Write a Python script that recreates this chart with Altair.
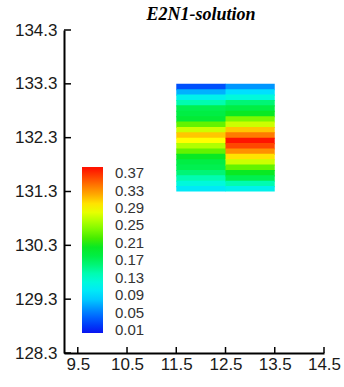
import altair as alt
import pandas as pd

# Data
x_edges = [11.5, 12.5, 13.5]
y_top = 133.3
row_step = 0.1
left_col = [0.03, 0.07, 0.11, 0.14, 0.17, 0.18, 0.19, 0.23, 0.27, 0.31,
            0.29, 0.26, 0.23, 0.20, 0.18, 0.17, 0.16, 0.14, 0.12, 0.10]
right_col = [0.06, 0.09, 0.12, 0.16, 0.18, 0.20, 0.24, 0.27, 0.31, 0.34,
             0.37, 0.36, 0.33, 0.30, 0.27, 0.23, 0.20, 0.17, 0.14, 0.11]
x_ticks = [9.5, 10.5, 11.5, 12.5, 13.5, 14.5]
y_ticks = [128.3, 129.3, 130.3, 131.3, 132.3, 133.3, 134.3]
legend_values = [0.01, 0.05, 0.09, 0.13, 0.17, 0.21, 0.25, 0.29, 0.33, 0.37]
legend_colors = ["#0a14f0", "#1e78ff", "#00e0ff", "#00ffc8", "#00f050",
                 "#10e600", "#90ff00", "#ffff00", "#ff9000", "#ff1400"]
color_min, color_max = 0.003, 0.384

rows = []
for ci, col in enumerate([left_col, right_col]):
    n = len(col)
    for k, v in enumerate(col):
        overlap = 0.02 if k < n - 1 else 0.0
        rows.append({
            "x0": x_edges[ci], "x1": x_edges[ci + 1] + (0.01 if ci == 0 else 0.0),
            "y0": round(y_top - k * row_step, 4),
            "y1": round(y_top - (k + 1) * row_step - overlap, 4),
            "v": v,
        })
df = pd.DataFrame(rows)
dfx = pd.DataFrame({"x": x_ticks})
dfy = pd.DataFrame({"y": y_ticks})

W, H = 260, 323
xs = alt.Scale(domain=[9.22, 14.5], nice=False, zero=False)
ys = alt.Scale(domain=[128.3, 134.3], nice=False, zero=False)
cs = alt.Scale(domain=[color_min] + legend_values + [color_max],
               range=[legend_colors[0]] + legend_colors + [legend_colors[-1]])

axis_common = dict(domainColor="black", domainWidth=2, ticks=False, grid=False,
                   labelFont="Liberation Sans", labelFontSize=17, labelColor="#1a1a1a",
                   labelOverlap=False, labelFlush=False, title=None)

heat = alt.Chart(df).mark_rect().encode(
    x=alt.X("x0:Q", scale=xs, axis=alt.Axis(values=x_ticks, format=".1f",
                                             labelPadding=3, **axis_common)),
    x2="x1:Q",
    y=alt.Y("y0:Q", scale=ys, axis=alt.Axis(values=y_ticks, format=".1f",
                                             labelPadding=7, **axis_common)),
    y2="y1:Q",
    color=alt.Color("v:Q", scale=cs,
                    legend=alt.Legend(orient="none", legendX=18, legendY=137,
                                      direction="vertical", title=None,
                                      gradientLength=166, gradientThickness=21,
                                      values=legend_values, format=".2f",
                                      labelOverlap=False,
                                      labelFont="Liberation Sans", labelFontSize=15,
                                      labelColor="#333", labelOffset=12,
                                      gradientStrokeWidth=0)),
)

xt = alt.Chart(dfx).mark_rule(color="black", strokeWidth=1.5).encode(
    x=alt.X("x:Q", scale=xs), y=alt.value(H), y2=alt.value(H - 6))
yt = alt.Chart(dfy).mark_rule(color="black", strokeWidth=1.5).encode(
    y=alt.Y("y:Q", scale=ys), x=alt.value(0), x2=alt.value(7))

chart = alt.layer(heat, xt, yt).properties(
    width=W, height=H,
    title=alt.TitleParams("E2N1-solution", font="Liberation Serif", fontSize=18,
                          fontStyle="italic", fontWeight="bold", color="black",
                          dx=7, dy=11, offset=8),
    padding={"left": 64, "top": 30, "right": 20, "bottom": 34},
    autosize=alt.AutoSizeParams(type="none"),
).configure(background="white").configure_view(strokeWidth=0, stroke="transparent")

chart.save("out.html", embed_options={"renderer": "svg", "actions": False})
